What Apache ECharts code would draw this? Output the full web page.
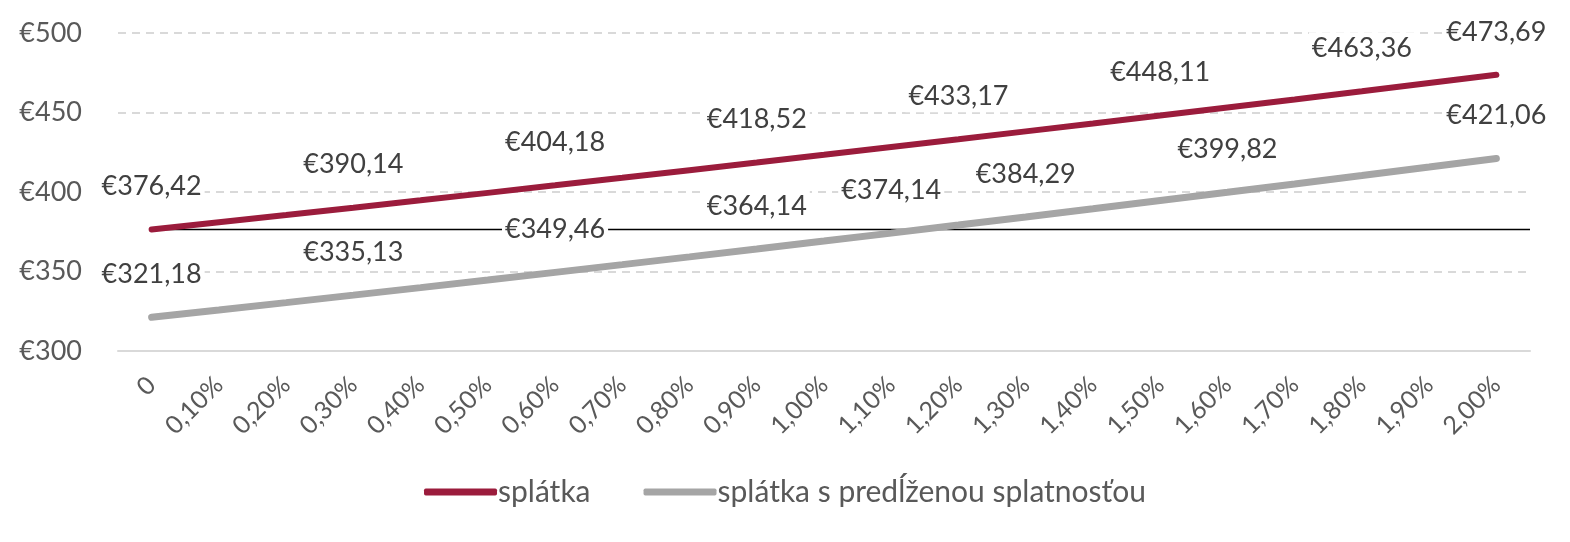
<!DOCTYPE html>
<html><head><meta charset="utf-8">
<script src="https://cdn.jsdelivr.net/npm/echarts@6/dist/echarts.min.js"></script>
<style>html,body{margin:0;padding:0;background:#fff}#c{width:1570px;height:542px}</style>
</head><body><div id="c"></div>
<script>
const categories = ['0','0,10%','0,20%','0,30%','0,40%','0,50%','0,60%','0,70%','0,80%','0,90%','1,00%','1,10%','1,20%','1,30%','1,40%','1,50%','1,60%','1,70%','1,80%','1,90%','2,00%'];
const splatka = [376.42,380.97,385.53,390.14,394.77,399.46,404.18,408.93,413.71,418.52,423.37,428.25,433.17,438.12,443.10,448.11,453.16,458.24,463.36,468.51,473.69];
const splatkaPredlzena = [321.18,325.78,330.42,335.13,339.86,344.64,349.46,354.31,359.20,364.14,369.12,374.14,379.19,384.29,389.43,394.61,399.82,405.08,410.38,415.70,421.06];
const splatkaLabelIdx = [0,3,6,9,12,15,18,20];
const predlzenaLabelIdx = [0,3,6,9,11,13,16,20];
const referenceValue = 376.42;
const refLineX = [0, 20.5];
const yTicks = {min:300, max:500, interval:50};
const seriesNames = ['splátka','splátka s predĺženou splatnosťou'];

const fmt = v => '€' + v.toFixed(2).replace('.', ',');
const withLabels = (vals, idx) => vals.map((v,i) => idx.includes(i) ? {value:v, label:{show:true}} : v);
const labelStyle = {
  show:false, position:'top', distance:27, formatter: p => fmt(p.value),
  fontFamily:'Lato', fontSize:27, color:'#404040', backgroundColor:'#ffffff',
  padding:[1,3], lineHeight:30
};
const chart = echarts.init(document.getElementById('c'), null, {renderer:'canvas'});
chart.setOption({
  animation:false,
  grid:{left:118, right:40, top:33, bottom:191, containLabel:false},
  xAxis:[{
    type:'category', data:categories, boundaryGap:true,
    axisLine:{show:true, lineStyle:{color:'#D9D9D9', width:2}},
    axisTick:{show:false},
    axisLabel:{rotate:45, interval:0, fontFamily:'Lato', fontSize:25, color:'#595959', margin:30}
  },{
    type:'value', min:-0.5, max:20.5, show:false
  }],
  yAxis:{
    type:'value', min:yTicks.min, max:yTicks.max, interval:yTicks.interval,
    axisLine:{show:false}, axisTick:{show:false},
    axisLabel:{formatter: v => '€' + v, fontFamily:'Lato', fontSize:27, color:'#595959', margin:36},
    splitLine:{lineStyle:{color:'#D9D9D9', type:[8,6], width:2}}
  },
  legend:{
    bottom:30, left:'center', itemWidth:73, itemHeight:7, itemGap:53,
    icon:'roundRect',
    textStyle:{fontFamily:'Lato', fontSize:30, color:'#595959', padding:[0,0,0,-4]},
    data:seriesNames
  },
  series:[
    {type:'line', name:'ref', xAxisIndex:1, data:refLineX.map(x => [x, referenceValue]),
     symbol:'none', lineStyle:{color:'#000', width:1.5}, z:1, silent:true},
    {type:'line', name:seriesNames[1], data:withLabels(splatkaPredlzena, predlzenaLabelIdx),
     symbol:'circle', symbolSize:0.01, showSymbol:true, color:'#A5A5A5',
     lineStyle:{color:'#A5A5A5', width:7, cap:'round'}, label:labelStyle, z:3},
    {type:'line', name:seriesNames[0], data:withLabels(splatka, splatkaLabelIdx),
     symbol:'circle', symbolSize:0.01, showSymbol:true, color:'#9B1C3C',
     lineStyle:{color:'#9B1C3C', width:6, cap:'round'}, label:labelStyle, z:4}
  ]
});
</script></body></html>
